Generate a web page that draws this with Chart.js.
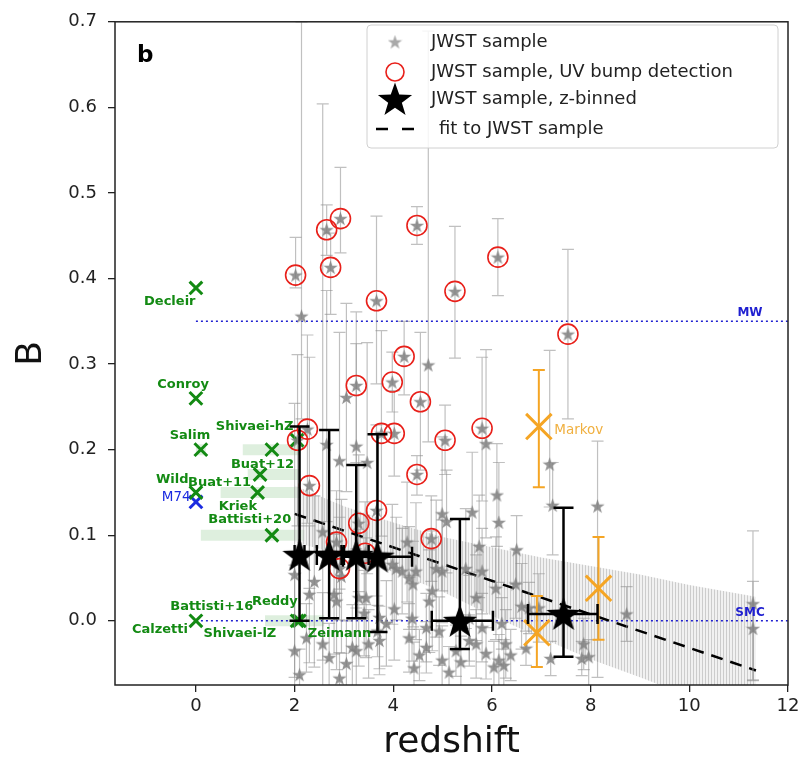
<!DOCTYPE html>
<html>
<head>
<meta charset="utf-8">
<script src="https://cdn.jsdelivr.net/npm/chart.js@4.4.1/dist/chart.umd.min.js"></script>
<style>
  html, body { margin: 0; padding: 0; background: #fff; }
  #wrap { width: 811px; height: 761px; }
</style>
</head>
<body>
<div id="wrap"><canvas id="c" width="811" height="761"></canvas></div>
<script>
// axis ticks
const xTicks = [0, 2, 4, 6, 8, 10, 12];
const yTicks = [0, 0.1, 0.2, 0.3, 0.4, 0.5, 0.6, 0.7];

// JWST sample, UV bump detections (circled)
const zBump  = [2.02, 2.65, 2.93, 2.73, 3.66, 4.48, 6.12, 5.25, 7.54, 4.22, 3.98, 3.25, 4.55, 4.02, 3.76, 5.05, 5.80, 2.26, 2.06, 4.48, 2.30, 3.66, 3.30, 4.77, 2.85, 2.91, 3.43];
const bBump  = [0.404, 0.457, 0.470, 0.413, 0.374, 0.462, 0.425, 0.385, 0.335, 0.309, 0.279, 0.275, 0.256, 0.219, 0.219, 0.211, 0.225, 0.224, 0.211, 0.171, 0.158, 0.129, 0.114, 0.096, 0.092, 0.061, 0.079];
const loBump = [0.015, 0.030, 0.040, 0.055, 0.097, 0.022, 0.045, 0.078, 0.099, 0.045, 0.035, 0.090, 0.080, 0.050, 0.120, 0.040, 0.085, 0.110, 0.100, 0.024, 0.120, 0.100, 0.080, 0.050, 0.060, 0.060, 0.060];
const hiBump = [0.044, 0.029, 0.060, 0.040, 0.099, 0.022, 0.045, 0.076, 0.099, 0.041, 0.035, 0.086, 0.081, 0.050, 0.120, 0.041, 0.083, 0.110, 0.100, 0.022, 0.150, 0.100, 0.080, 0.050, 0.060, 0.060, 0.060];

// JWST sample, rest
const zGray  = [2.14, 4.71, 3.05, 5.88, 2.65, 2.91, 3.47, 7.17, 7.23, 8.14, 3.25, 6.10, 5.60, 4.99, 5.08, 6.14, 6.50, 5.74, 4.28, 4.18,
                4.46, 4.99, 4.79, 2.00, 2.40, 3.30, 2.80, 3.41, 3.72, 2.00, 2.70, 3.17, 3.50, 3.68, 3.05, 2.24, 4.32, 4.67, 4.99, 5.27,
                5.68, 5.88, 6.14, 6.28, 6.69, 5.54, 5.80, 6.20, 4.38, 4.67, 4.93, 4.73, 5.68, 6.08, 4.87, 5.47, 5.80, 6.48, 6.75, 3.98,
                4.32, 2.57, 2.85, 3.45, 4.06, 2.57, 3.25, 3.72, 2.95, 3.86, 2.30, 6.60, 6.95, 7.19, 7.86, 7.82, 7.96, 8.73, 11.29, 11.29,
                2.10, 2.91, 4.42, 5.13, 6.24, 4.02, 4.40, 4.53, 5.37, 5.54, 6.04, 6.38];
const bGray  = [0.356, 0.299, 0.261, 0.207, 0.206, 0.187, 0.185, 0.183, 0.135, 0.134, 0.204, 0.147, 0.127, 0.125, 0.116, 0.115, 0.083, 0.087, 0.092, 0.058,
                0.058, 0.058, 0.035, 0.054, 0.046, 0.027, 0.031, 0.009, 0.004, -0.035, -0.043, -0.031, -0.027, -0.012, -0.050, -0.020, -0.020, -0.031, -0.046, -0.035,
                -0.027, -0.038, -0.046, -0.027, -0.032, 0.003, -0.008, -0.003, 0.003, -0.008, -0.012, 0.023, 0.027, 0.038, 0.061, 0.061, 0.058, 0.043, 0.015, 0.066,
                0.050, 0.104, 0.023, 0.027, 0.061, -0.027, -0.035, -0.023, 0.052, -0.003, 0.031, 0.017, 0.015, -0.044, -0.027, -0.044, -0.042, 0.008, 0.020, -0.009,
                -0.063, -0.067, -0.055, -0.060, -0.052, 0.014, 0.043, -0.040, -0.048, -0.023, -0.054, -0.040];
const loGray = [0.120, 0.090, 0.110, 0.110, 0.090, 0.150, 0.130, 0.050, 0.058, 0.200, 0.120, 0.060, 0.070, 0.090, 0.060, 0.070, 0.040, 0.060, 0.070, 0.050,
                0.080, 0.060, 0.070, 0.120, 0.100, 0.080, 0.070, 0.050, 0.060, 0.060, 0.040, 0.050, 0.040, 0.030, 0.050, 0.040, 0.040, 0.030, 0.040, 0.030,
                0.040, 0.030, 0.030, 0.040, 0.020, 0.050, 0.040, 0.030, 0.050, 0.040, 0.040, 0.060, 0.050, 0.060, 0.080, 0.070, 0.050, 0.040, 0.030, 0.070,
                0.060, 0.150, 0.080, 0.070, 0.060, 0.060, 0.050, 0.040, 0.090, 0.050, 0.080, 0.050, 0.040, 0.020, 0.030, 0.020, 0.060, 0.032, 0.090, 0.060,
                0.030, 0.030, 0.030, 0.030, 0.030, 0.060, 0.050, 0.030, 0.030, 0.030, 0.030, 0.030];
const hiGray = [0.344, 0.390, 0.110, 0.110, 0.180, 0.150, 0.140, 0.133, 0.050, 0.076, 0.120, 0.060, 0.070, 0.090, 0.060, 0.070, 0.040, 0.060, 0.070, 0.050,
                0.080, 0.060, 0.070, 0.200, 0.100, 0.080, 0.070, 0.050, 0.060, 0.100, 0.040, 0.050, 0.040, 0.030, 0.050, 0.040, 0.040, 0.030, 0.040, 0.030,
                0.040, 0.030, 0.030, 0.040, 0.020, 0.050, 0.040, 0.030, 0.050, 0.040, 0.040, 0.060, 0.050, 0.060, 0.080, 0.070, 0.050, 0.040, 0.030, 0.070,
                0.060, 0.500, 0.080, 0.070, 0.060, 0.060, 0.050, 0.040, 0.090, 0.050, 0.080, 0.050, 0.040, 0.020, 0.030, 0.020, 0.020, 0.032, 0.085, 0.055,
                0.030, 0.030, 0.030, 0.030, 0.030, 0.060, 0.050, 0.030, 0.030, 0.030, 0.030, 0.030];

// JWST sample, z-binned
const zBin   = [2.10, 2.70, 3.25, 3.68, 5.35, 7.45];
const bBin   = [0.077, 0.077, 0.077, 0.075, 0.000, 0.008];
const bBinLo = [0.077, 0.074, 0.074, 0.088, 0.033, 0.050];
const bBinHi = [0.150, 0.146, 0.105, 0.143, 0.119, 0.124];
const zBinLo = [0.10, 0.25, 0.25, 0.70, 0.57, 0.72];
const zBinHi = [0.10, 0.25, 0.25, 0.70, 0.67, 0.69];

// fit to JWST sample and its spread
const zFit = [2.0, 11.35];
const bFit = [0.125, -0.058];
const zBand   = [2, 3, 4, 5, 6, 7, 8, 9, 10, 11.35];
const bBandHi = [0.158, 0.134, 0.115, 0.098, 0.086, 0.074, 0.064, 0.054, 0.042, 0.028];
const bBandLo = [0.092, 0.076, 0.057, 0.034, 0.006, -0.020, -0.045, -0.066, -0.088, -0.118];

// Markov (orange)
const zMarkov  = [6.95, 8.16, 6.91];
const bMarkov  = [0.227, 0.038, -0.014];
const loMarkov = [0.071, 0.060, 0.040];
const hiMarkov = [0.066, 0.060, 0.043];

// literature (green) and M74 (blue)
const zLit = [0, 0, 0.1, 0, 1.25, 1.3, 1.54, 2.05, 1.54, 0, 2.05, 2.1];
const bLit = [0.389, 0.26, 0.2, 0.15, 0.15, 0.171, 0.2, 0.211, 0.1, 0, 0, 0];
const zM74 = [0];
const bM74 = [0.139];
const litRangeB  = [0.2, 0.2, 0.171, 0.15, 0.1, 0.0];
const litRangeZ0 = [0.0, 0.95, 1.05, 0.5, 0.1, 1.4];
const litRangeZ1 = [0.2, 2.1, 2.1, 2.1, 2.2, 2.6];

// reference lines
const zRef = [0, 12];
const bMW = 0.35;
const bSMC = 0.0;

const litLabels = [
  ['Decleir', -0.53, 0.373], ['Conroy', -0.26, 0.276], ['Salim', -0.12, 0.216], ['Wild', -0.48, 0.165],
  ['Buat+11', 0.48, 0.162], ['Buat+12', 1.35, 0.182], ['Kriek', 0.85, 0.133], ['Battisti+20', 1.09, 0.118],
  ['Shivaei-hZ', 1.19, 0.227], ['Battisti+16', 0.32, 0.017], ['Calzetti', -0.73, -0.010], ['Reddy', 1.6, 0.023],
  ['Shivaei-lZ', 0.89, -0.015], ['Zeimann', 2.91, -0.015]
];

const FONT = "'DejaVu Sans', sans-serif";
Chart.defaults.font.family = FONT;

function pts(xs, ys) { return xs.map((x, i) => ({ x: x, y: ys[i] })); }

function starImage(size, fill) {
  const c = document.createElement('canvas');
  c.width = c.height = size;
  const g = c.getContext('2d');
  const R = size / 2, r = R * 0.4;
  g.beginPath();
  for (let i = 0; i < 10; i++) {
    const rad = i % 2 ? r : R;
    const a = -Math.PI / 2 + i * Math.PI / 5;
    g.lineTo(R + rad * Math.cos(a), R + rad * Math.sin(a) + R * 0.08);
  }
  g.closePath();
  g.fillStyle = fill;
  g.fill();
  return c;
}

const grayStar = starImage(15, 'rgba(128,128,128,0.85)');
const blackStar = starImage(36, '#000');
const legendGrayStar = starImage(15, 'rgba(160,160,160,0.9)');

const canvas = document.getElementById('c');
const ctx = canvas.getContext('2d');

const bandPattern = (() => {
  const c = document.createElement('canvas');
  c.width = 3; c.height = 3;
  const g = c.getContext('2d');
  g.fillStyle = 'rgba(220,220,220,0.4)';
  g.fillRect(0, 0, 3, 3);
  g.fillStyle = 'rgba(160,160,160,0.45)';
  g.fillRect(0, 0, 1, 3);
  return ctx.createPattern(c, 'repeat');
})();

const lineBase = { type: 'line', showLine: true, pointRadius: 0, fill: false, tension: 0 };

const datasets = [
  { // z-binned
    data: pts(zBin, bBin), pointStyle: blackStar, pointRadius: 17, order: 0,
    errorBars: { lo: bBinLo, hi: bBinHi, xlo: zBinLo, xhi: zBinHi, color: '#000', width: 2.5, cap: 10 }
  },
  { // Markov
    data: pts(zMarkov, bMarkov), pointStyle: 'crossRot', pointRadius: 18,
    pointBorderColor: '#f5a524', pointBackgroundColor: 'transparent', pointBorderWidth: 3, order: 1,
    errorBars: { lo: loMarkov, hi: hiMarkov, color: '#f5a524', width: 2, cap: 6 }
  },
  { // UV bump circles
    data: pts(zBump, bBump), pointStyle: 'circle', pointRadius: 10,
    pointBorderColor: '#e8201a', pointBackgroundColor: 'transparent', pointBorderWidth: 1.6, order: 2
  },
  { // JWST sample
    data: pts(zBump.concat(zGray), bBump.concat(bGray)), pointStyle: grayStar, pointRadius: 7, order: 3,
    errorBars: { lo: loBump.concat(loGray), hi: hiBump.concat(hiGray), color: 'rgba(140,140,140,0.55)', width: 1.2, cap: 6 }
  },
  { // literature
    data: pts(zLit, bLit), pointStyle: 'crossRot', pointRadius: 9,
    pointBorderColor: '#138a13', pointBackgroundColor: 'transparent', pointBorderWidth: 3, order: 4
  },
  {
    data: pts(zM74, bM74), pointStyle: 'crossRot', pointRadius: 9,
    pointBorderColor: '#1b2be0', pointBackgroundColor: 'transparent', pointBorderWidth: 3, order: 4
  },
  Object.assign({}, lineBase, { // fit
    data: pts(zFit, bFit), borderColor: '#000', borderWidth: 2.5, borderDash: [12, 8], order: 5
  }),
  Object.assign({}, lineBase, {
    data: pts(zRef, zRef.map(() => bMW)), borderColor: '#1f1fd0', borderWidth: 1.6, borderDash: [2, 3], order: 6
  }),
  Object.assign({}, lineBase, {
    data: pts(zRef, zRef.map(() => bSMC)), borderColor: '#1f1fd0', borderWidth: 1.6, borderDash: [2, 3], order: 6
  }),
  Object.assign({}, lineBase, { // band upper, filled to next
    data: pts(zBand, bBandHi), borderWidth: 0, borderColor: 'transparent', fill: '+1',
    backgroundColor: bandPattern, order: 7
  }),
  Object.assign({}, lineBase, {
    data: pts(zBand, bBandLo), borderWidth: 0, borderColor: 'transparent', order: 8
  })
];

litRangeB.forEach((b, i) => {
  datasets.push(Object.assign({}, lineBase, {
    data: [{ x: litRangeZ0[i], y: b }, { x: litRangeZ1[i], y: b }],
    borderColor: 'rgba(0,128,0,0.13)', borderWidth: 11, borderCapStyle: 'butt', order: 9
  }));
});

const errorBarPlugin = {
  id: 'errorBars',
  beforeDatasetDraw(chart, args) {
    const ds = chart.data.datasets[args.index];
    const eb = ds.errorBars;
    if (!eb) return;
    const xs = chart.scales.x, ys = chart.scales.y, a = chart.chartArea, c = chart.ctx;
    c.save();
    c.beginPath();
    c.rect(a.left, a.top, a.right - a.left, a.bottom - a.top);
    c.clip();
    c.strokeStyle = eb.color;
    c.lineWidth = eb.width;
    ds.data.forEach((p, i) => {
      const px = xs.getPixelForValue(p.x), py = ys.getPixelForValue(p.y);
      const t = ys.getPixelForValue(p.y + eb.hi[i]), b = ys.getPixelForValue(p.y - eb.lo[i]);
      c.beginPath();
      c.moveTo(px, t); c.lineTo(px, b);
      c.moveTo(px - eb.cap, t); c.lineTo(px + eb.cap, t);
      c.moveTo(px - eb.cap, b); c.lineTo(px + eb.cap, b);
      if (eb.xlo) {
        const l = xs.getPixelForValue(p.x - eb.xlo[i]), r = xs.getPixelForValue(p.x + eb.xhi[i]);
        c.moveTo(l, py); c.lineTo(r, py);
        c.moveTo(l, py - eb.cap); c.lineTo(l, py + eb.cap);
        c.moveTo(r, py - eb.cap); c.lineTo(r, py + eb.cap);
      }
      c.stroke();
    });
    c.restore();
  }
};

const decorPlugin = {
  id: 'decor',
  afterDatasetsDraw(chart) {
    const xs = chart.scales.x, ys = chart.scales.y, a = chart.chartArea, c = chart.ctx;
    c.save();
    // text labels
    c.textAlign = 'center';
    c.textBaseline = 'middle';
    c.font = 'bold 13px ' + FONT;
    c.fillStyle = '#138a13';
    litLabels.forEach(([t, z, b]) => c.fillText(t, xs.getPixelForValue(z), ys.getPixelForValue(b)));
    c.font = '13.5px ' + FONT;
    c.fillStyle = '#1b2be0';
    c.fillText('M74', xs.getPixelForValue(-0.4), ys.getPixelForValue(0.144));
    c.font = 'bold 12px ' + FONT;
    c.fillStyle = '#1f1fd0';
    c.fillText('MW', xs.getPixelForValue(11.23), ys.getPixelForValue(0.36));
    c.fillText('SMC', xs.getPixelForValue(11.23), ys.getPixelForValue(0.009));
    c.font = '13.5px ' + FONT;
    c.fillStyle = '#f0b040';
    c.fillText('Markov', xs.getPixelForValue(7.76), ys.getPixelForValue(0.222));
    // frame
    c.strokeStyle = '#222';
    c.lineWidth = 1.5;
    c.strokeRect(a.left, a.top, a.right - a.left, a.bottom - a.top);
    // panel label
    c.font = 'bold 23px ' + FONT;
    c.fillStyle = '#000';
    c.textAlign = 'left';
    c.textBaseline = 'alphabetic';
    c.fillText('b', a.left + 22, a.top + 40);
    c.restore();
  },
  afterDraw(chart) {
    const c = chart.ctx;
    c.save();
    const L = 367, T = 25, W = 411, H = 123;
    c.beginPath();
    c.roundRect(L, T, W, H, 4);
    c.fillStyle = 'rgba(255,255,255,0.85)';
    c.fill();
    c.strokeStyle = '#d0d0d0';
    c.lineWidth = 1;
    c.stroke();
    const mx = 395, tx = 431;
    const rows = [42, 72, 99, 129];
    c.drawImage(legendGrayStar, mx - 7.5, rows[0] - 7.5);
    c.beginPath();
    c.arc(mx, rows[1], 9, 0, Math.PI * 2);
    c.strokeStyle = '#e8201a';
    c.lineWidth = 1.6;
    c.stroke();
    c.drawImage(blackStar, mx - 18, rows[2] - 18);
    c.beginPath();
    c.moveTo(376, rows[3]); c.lineTo(388, rows[3]);
    c.moveTo(402, rows[3]); c.lineTo(414, rows[3]);
    c.strokeStyle = '#000';
    c.lineWidth = 2.5;
    c.stroke();
    c.font = '18px ' + FONT;
    c.fillStyle = '#222';
    c.textAlign = 'left';
    c.textBaseline = 'middle';
    c.fillText('JWST sample', tx, rows[0]);
    c.fillText('JWST sample, UV bump detection', tx, rows[1]);
    c.fillText('JWST sample, z-binned', tx, rows[2]);
    c.fillText('fit to JWST sample', tx + 8, rows[3]);
    c.restore();
  }
};

new Chart(ctx, {
  type: 'scatter',
  data: { datasets: datasets },
  options: {
    responsive: false,
    animation: false,
    devicePixelRatio: 1,
    layout: { padding: { top: 12, right: 23, left: 0, bottom: 0 } },
    plugins: { legend: { display: false }, tooltip: { enabled: false } },
    scales: {
      x: {
        type: 'linear', min: -1.64, max: 12,
        afterBuildTicks: (s) => { s.ticks = xTicks.map(v => ({ value: v })); },
        afterFit: (s) => { s.height = 76; },
        grid: { display: true, drawOnChartArea: false, drawTicks: true, tickLength: 7, color: '#222', lineWidth: 1.3 },
        border: { display: false },
        ticks: { color: '#222', font: { size: 18 }, padding: 4, maxRotation: 0, autoSkip: false },
        title: { display: true, text: 'redshift', color: '#111', font: { size: 36, lineHeight: 1.0 }, padding: { top: 0, bottom: 0 } }
      },
      y: {
        type: 'linear', min: -0.075, max: 0.7,
        afterBuildTicks: (s) => { s.ticks = yTicks.map(v => ({ value: v })); },
        afterFit: (s) => { s.width = 115; },
        grid: { display: true, drawOnChartArea: false, drawTicks: true, tickLength: 7, color: '#222', lineWidth: 1.3 },
        border: { display: false },
        ticks: { color: '#222', font: { size: 18 }, padding: 11, autoSkip: false, callback: (v) => Number(v).toFixed(1) },
        title: { display: true, text: 'B', color: '#111', font: { size: 36, lineHeight: 1.0 }, padding: { top: 14, bottom: 0 } }
      }
    }
  },
  plugins: [errorBarPlugin, decorPlugin]
});
</script>
</body>
</html>
